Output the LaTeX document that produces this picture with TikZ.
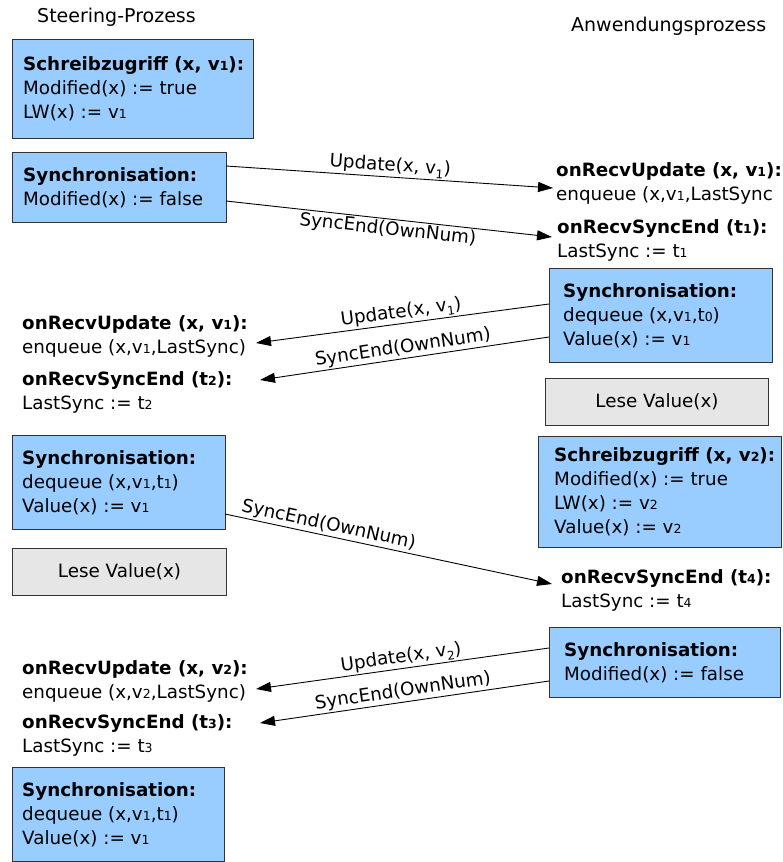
\documentclass[tikz,border=0pt]{standalone}
\usepackage{fontspec}
\setmainfont{DejaVu Sans}
\usetikzlibrary{arrows.meta}

\definecolor{boxblue}{HTML}{99CCFF}
\definecolor{boxgrey}{HTML}{E6E6E6}
\definecolor{boxline}{HTML}{333333}

% small index digit sitting on the baseline (v1, t0, ...)
\newcommand\dg[1]{{\fontsize{12.5}{12}\selectfont #1}}
% lowered index digit in message labels
\newcommand\sub[1]{\raisebox{-4pt}{\fontsize{12}{12}\selectfont #1}}
\newcommand\bx{\fontsize{18.3}{24}\selectfont}
\newcommand\hd{\fontsize{19}{24}\selectfont}

\begin{document}
\begin{tikzpicture}[x=1pt,y=-1pt,
  bluebox/.style={draw=boxline, fill=boxblue, line width=1pt, anchor=north west, inner sep=0pt},
  greybox/.style={draw=boxline, fill=boxgrey, line width=1pt, anchor=north west, inner sep=0pt, font=\bx},
  note/.style={align=left, inner sep=0pt, font=\bx},
  msg/.style={draw=black, line width=0.9pt, -{Triangle[length=15pt,width=10pt]}},
  lbl/.style={font=\bx, sloped, inner sep=1.5pt}]

\useasboundingbox (0,0) rectangle (783,862);

% process headings
\node[anchor=base west, font=\hd, inner sep=0pt] (hsteer) at (37,23) {Steering-Prozess};
\node[anchor=base west, font=\hd, inner sep=0pt] (happ) at (571,31) {Anwendungsprozess};

% ---- steering process (left) ----
\node[bluebox, minimum width=241pt, minimum height=99pt] (w1) at (12,39) {};
\node[note, anchor=west] (w1t) at ([xshift=11pt]w1.west)
  {\textbf{Schreibzugriff (x, v\dg{1}):}\\Modified(x) := true\\LW(x) := v\dg{1}};

\node[bluebox, minimum width=214pt, minimum height=70pt] (s1) at (12,152) {};
\node[note, anchor=west] (s1t) at ([xshift=11pt]s1.west)
  {\textbf{Synchronisation:}\\Modified(x) := false};

\node[note, anchor=north west] (u1) at (22,315)
  {\textbf{onRecvUpdate (x, v\dg{1}):}\\enqueue (x,v\dg{1},LastSync)};
\node[note, anchor=north west] (e2) at (22,371)
  {\textbf{onRecvSyncEnd (t\dg{2}):}\\LastSync := t\dg{2}};

\node[bluebox, minimum width=213pt, minimum height=94pt] (s2) at (12,435) {};
\node[note, anchor=west] (s2t) at ([xshift=10pt]s2.west)
  {\textbf{Synchronisation:}\\dequeue (x,v\dg{1},t\dg{1})\\Value(x) := v\dg{1}};

\node[greybox, minimum width=214pt, minimum height=47pt] (r1) at (12,548) {Lese Value(x)};

\node[note, anchor=north west] (u2) at (22,660)
  {\textbf{onRecvUpdate (x, v\dg{2}):}\\enqueue (x,v\dg{2},LastSync)};
\node[note, anchor=north west] (e3) at (22,714)
  {\textbf{onRecvSyncEnd (t\dg{3}):}\\LastSync := t\dg{3}};

\node[bluebox, minimum width=212pt, minimum height=94pt] (s3) at (12,767) {};
\node[note, anchor=west] (s3t) at ([xshift=10pt]s3.west)
  {\textbf{Synchronisation:}\\dequeue (x,v\dg{1},t\dg{1})\\Value(x) := v\dg{1}};

% ---- application process (right) ----
\node[note, anchor=north west] (au1) at (556,162)
  {\textbf{onRecvUpdate (x, v\dg{1}):}\\enqueue (x,v\dg{1},LastSync};
\node[note, anchor=north west] (ae1) at (557,219)
  {\textbf{onRecvSyncEnd (t\dg{1}):}\\LastSync := t\dg{1}};

\node[bluebox, minimum width=223pt, minimum height=94pt] (as1) at (549,268) {};
\node[note, anchor=west] (as1t) at ([xshift=14pt]as1.west)
  {\textbf{Synchronisation:}\\dequeue (x,v\dg{1},t\dg{0})\\Value(x) := v\dg{1}};

\node[greybox, minimum width=223pt, minimum height=47pt] (ar1) at (545,378) {Lese Value(x)};

\node[bluebox, minimum width=243pt, minimum height=111pt] (aw2) at (538,436) {};
\node[note, anchor=west] (aw2t) at ([xshift=16pt]aw2.west)
  {\textbf{Schreibzugriff (x, v\dg{2}):}\\Modified(x) := true\\LW(x) := v\dg{2}\\Value(x) := v\dg{2}};

\node[note, anchor=north west] (ae4) at (561,569)
  {\textbf{onRecvSyncEnd (t\dg{4}):}\\LastSync := t\dg{4}};

\node[bluebox, minimum width=231pt, minimum height=70pt] (as2) at (549,627) {};
\node[note, anchor=west] (as2t) at ([xshift=15pt]as2.west)
  {\textbf{Synchronisation:}\\Modified(x) := false};

% message end points
\coordinate (m1a) at (226,166); \coordinate (m1b) at (553,188);
\coordinate (m2a) at (226,201); \coordinate (m2b) at (552,237);
\coordinate (m3a) at (549,304); \coordinate (m3b) at (256,343);
\coordinate (m4a) at (549,337); \coordinate (m4b) at (260,380);
\coordinate (m5a) at (225,514); \coordinate (m5b) at (552,584);
\coordinate (m6a) at (549,648); \coordinate (m6b) at (256,689);
\coordinate (m7a) at (549,681); \coordinate (m7b) at (260,723);

% messages
\draw[msg] (m1a) -- node[lbl, above] {Update(x, v\sub{1})} (m1b);
\draw[msg] (m2a) -- node[lbl, below] {SyncEnd(OwnNum)} (m2b);
\draw[msg] (m3a) -- node[lbl, above] {Update(x, v\sub{1})} (m3b);
\draw[msg] (m4a) -- node[lbl, above] {SyncEnd(OwnNum)} (m4b);
\draw[msg] (m5a) -- node[lbl, above, pos=0.31] {SyncEnd(OwnNum)} (m5b);
\draw[msg] (m6a) -- node[lbl, above] {Update(x, v\sub{2})} (m6b);
\draw[msg] (m7a) -- node[lbl, above] {SyncEnd(OwnNum)} (m7b);
\end{tikzpicture}
\end{document}
